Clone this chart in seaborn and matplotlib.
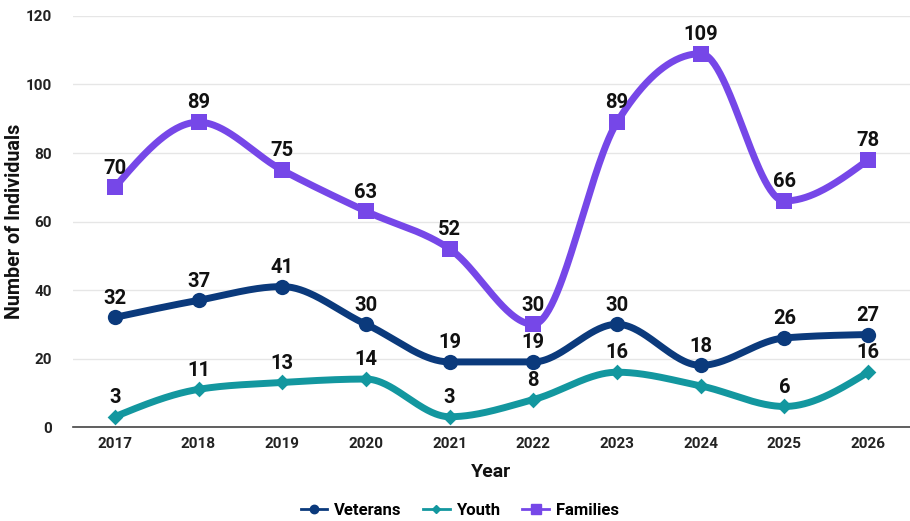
import numpy as np
import pandas as pd
import matplotlib
matplotlib.use("Agg")
import matplotlib.pyplot as plt
import seaborn as sns
from matplotlib.lines import Line2D

years = ["2017", "2018", "2019", "2020", "2021", "2022", "2023", "2024", "2025", "2026"]
veterans = [32, 37, 41, 30, 19, 19, 30, 18, 26, 27]
youth = [3, 11, 13, 14, 3, 8, 16, 12, 6, 16]
families = [70, 89, 75, 63, 52, 30, 89, 109, 66, 78]
series_names = ["Veterans", "Youth", "Families"]
y_ticks = [0, 20, 40, 60, 80, 100, 120]

colors = {"Veterans": "#0b3a7c", "Youth": "#13979f", "Families": "#7647e8"}
markers = {"Veterans": "o", "Youth": "D", "Families": "s"}
msizes = {"Veterans": 11, "Youth": 8, "Families": 12}
hidden_labels = {("Youth", 7)}


def monotone_curve(y, n=60):
    y = np.asarray(y, float)
    x = np.arange(len(y), dtype=float)
    s = np.diff(y)
    t = np.zeros(len(y))
    for i in range(1, len(y) - 1):
        s0, s1 = s[i - 1], s[i]
        p = (s0 + s1) / 2
        t[i] = (np.sign(s0) + np.sign(s1)) * min(abs(s0), abs(s1), 0.5 * abs(p))
    t[0] = (3 * s[0] - t[1]) / 2
    t[-1] = (3 * s[-1] - t[-2]) / 2
    xs, ys = [], []
    for i in range(len(y) - 1):
        u = np.linspace(0, 1, n, endpoint=(i == len(y) - 2))
        h00 = 2 * u**3 - 3 * u**2 + 1
        h10 = u**3 - 2 * u**2 + u
        h01 = -2 * u**3 + 3 * u**2
        h11 = u**3 - u**2
        xs.append(x[i] + u)
        ys.append(h00 * y[i] + h10 * t[i] + h01 * y[i + 1] + h11 * t[i + 1])
    return np.concatenate(xs), np.concatenate(ys)


data = {"Veterans": veterans, "Youth": youth, "Families": families}

plt.rcParams["font.family"] = ["Roboto", "DejaVu Sans"]
fig = plt.figure(figsize=(9.1, 5.21), dpi=100)
ax = fig.add_axes([0.0802, 0.1804, 0.9198, 0.7889])

for name in series_names:
    vals = data[name]
    cx, cy = monotone_curve(vals)
    curve_df = pd.DataFrame({"x": cx, "y": cy})
    sns.lineplot(data=curve_df, x="x", y="y", ax=ax, color=colors[name],
                 linewidth=5.0, sort=False, estimator=None, zorder=3,
                 solid_capstyle="round")
    pts = pd.DataFrame({"x": np.arange(len(vals)), "y": vals})
    sns.scatterplot(data=pts, x="x", y="y", ax=ax, color=colors[name],
                    marker=markers[name], s=msizes[name] ** 2,
                    edgecolor=colors[name], linewidth=0, zorder=4)
    for i, v in enumerate(vals):
        if (name, i) in hidden_labels:
            continue
        ax.annotate(str(v), (i, v), xytext=(0, 7), textcoords="offset points",
                    ha="center", va="bottom", fontsize=14.5, fontweight="bold",
                    color="#111111", zorder=5)

ax.set_xlim(-0.5, len(years) - 0.5)
ax.set_ylim(0, 120)
ax.set_xticks(range(len(years)))
ax.set_xticklabels(years)
ax.set_yticks(y_ticks)
for lbl in ax.get_xticklabels() + ax.get_yticklabels():
    lbl.set_fontweight("bold")
    lbl.set_fontsize(11)
    lbl.set_color("#222222")
ax.tick_params(axis="both", length=0)
ax.tick_params(axis="x", pad=7)
ax.tick_params(axis="y", pad=15)
ax.grid(axis="y", color="#e6e6e6", linewidth=1)
ax.set_axisbelow(True)
for sp in ["top", "right", "left"]:
    ax.spines[sp].set_visible(False)
ax.spines["bottom"].set_color("#444444")
ax.spines["bottom"].set_linewidth(1.2)
ax.set_xlabel("Year", fontsize=14, fontweight="bold", color="#111111", labelpad=9)
ax.set_ylabel("Number of Individuals", fontsize=14.2, fontweight="bold", color="#111111")
ax.yaxis.label.set_va("center")
ax.yaxis.set_label_coords(-0.0693, 0.5)

handles = [Line2D([0], [0], color=colors[n], linewidth=2, marker=markers[n],
                  markersize=msizes[n] * 0.55) for n in series_names]
fig.legend(handles, series_names, loc="center", bbox_to_anchor=(0.505, 0.02),
           ncol=3, frameon=False, prop={"weight": "bold", "size": 12},
           handlelength=1.6, handletextpad=0.4, columnspacing=1.3)

fig.savefig("out.png", dpi=100)
